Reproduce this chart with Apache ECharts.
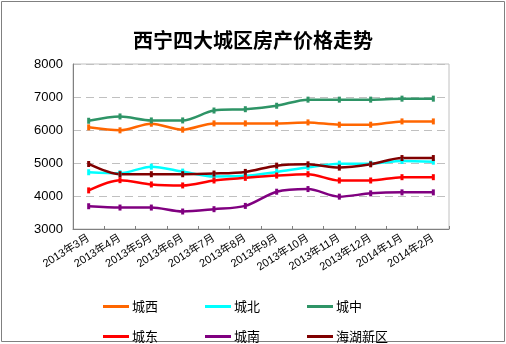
<!DOCTYPE html>
<html><head><meta charset="utf-8">
<script src="https://cdn.jsdelivr.net/npm/echarts@6/dist/echarts.min.js"></script>
<style>html,body{margin:0;padding:0;background:#fff}#c{width:506px;height:344px}</style>
</head><body><div id="c"></div>
<script>
var categories = ['2013年3月','2013年4月','2013年5月','2013年6月','2013年7月','2013年8月','2013年9月','2013年10月','2013年11月','2013年12月','2014年1月','2014年2月'];
var chengxi = [6080,5990,6190,6010,6200,6200,6200,6230,6160,6160,6260,6260];
var chengbei = [4720,4690,4890,4740,4590,4610,4730,4870,4980,4980,5060,5040];
var chengzhong = [6280,6410,6290,6290,6590,6630,6735,6920,6920,6920,6950,6950];
var chengdong = [4170,4480,4350,4320,4470,4550,4620,4660,4470,4470,4570,4570];
var chengnan = [3690,3650,3650,3530,3600,3700,4130,4210,3980,4080,4110,4110];
var haihu = [4970,4660,4660,4660,4680,4730,4920,4960,4860,4960,5150,5150];
var seriesNames = ['城西','城北','城中','城东','城南','海湖新区'];
var yTicks = [3000,4000,5000,6000,7000,8000];

var font = 'Liberation Sans, "Noto Sans CJK SC", sans-serif';
var colors = ['#FF6600','#00FFFF','#2E9466','#FF0000','#800080','#800000'];
var datas = [chengxi, chengbei, chengzhong, chengdong, chengnan, haihu];

var chart = echarts.init(document.getElementById('c'), null, {renderer:'canvas'});
var series = seriesNames.map(function(n,i){
  return {
    name:n, type:'line', data:datas[i], smooth:0.3,
    symbol:'rect', symbolSize:[3,6], showSymbol:true,
    lineStyle:{width:2.5,color:colors[i]},
    itemStyle:{color:colors[i]},
    emphasis:{disabled:true}, animation:false
  };
});
var legendCommon = {
  left:98, itemWidth:26, itemHeight:3, itemGap:47, icon:'rect',
  textStyle:{fontFamily:'"Noto Sans CJK SC", sans-serif', fontSize:13, color:'#000', padding:[0,0,0,-2]},
  selectedMode:false
};
chart.setOption({
  backgroundColor:'#fff',
  animation:false,
  color:colors,
  title:{
    text:'西宁四大城区房产价格走势', left:'center', top:25,
    textStyle:{fontFamily:'"Noto Sans CJK SC", sans-serif', fontSize:20, fontWeight:'bold', color:'#000'}
  },
  legend:[
    Object.assign({}, legendCommon, {top:295, data:seriesNames.slice(0,3)}),
    Object.assign({}, legendCommon, {top:325, data:seriesNames.slice(3,6)})
  ],
  grid:{left:73, right:57, top:64, bottom:115, show:true, borderColor:'#c0c0c0', borderWidth:1, backgroundColor:'transparent'},
  xAxis:{
    type:'category', data:categories, boundaryGap:true,
    axisLine:{lineStyle:{color:'#808080',width:1}},
    axisTick:{show:true, inside:true, length:3, lineStyle:{color:'#808080'}},
    axisLabel:{rotate:32, interval:0, fontFamily:font, fontSize:11, color:'#000', margin:8}
  },
  yAxis:{
    type:'value', min:3000, max:8000, interval:1000,
    axisLine:{show:true, lineStyle:{color:'#808080',width:1}},
    axisTick:{show:false},
    axisLabel:{fontFamily:font, fontSize:13, color:'#000', margin:10, formatter:function(v){return String(v);}},
    splitLine:{show:true, lineStyle:{color:'#c0c0c0', type:[8,5], width:1}}
  },
  series:series,
  graphic:[{type:'rect', shape:{x:1.5,y:1.5,width:503,height:340}, style:{fill:null, stroke:'#808080', lineWidth:1}, silent:true}]
});
</script></body></html>
